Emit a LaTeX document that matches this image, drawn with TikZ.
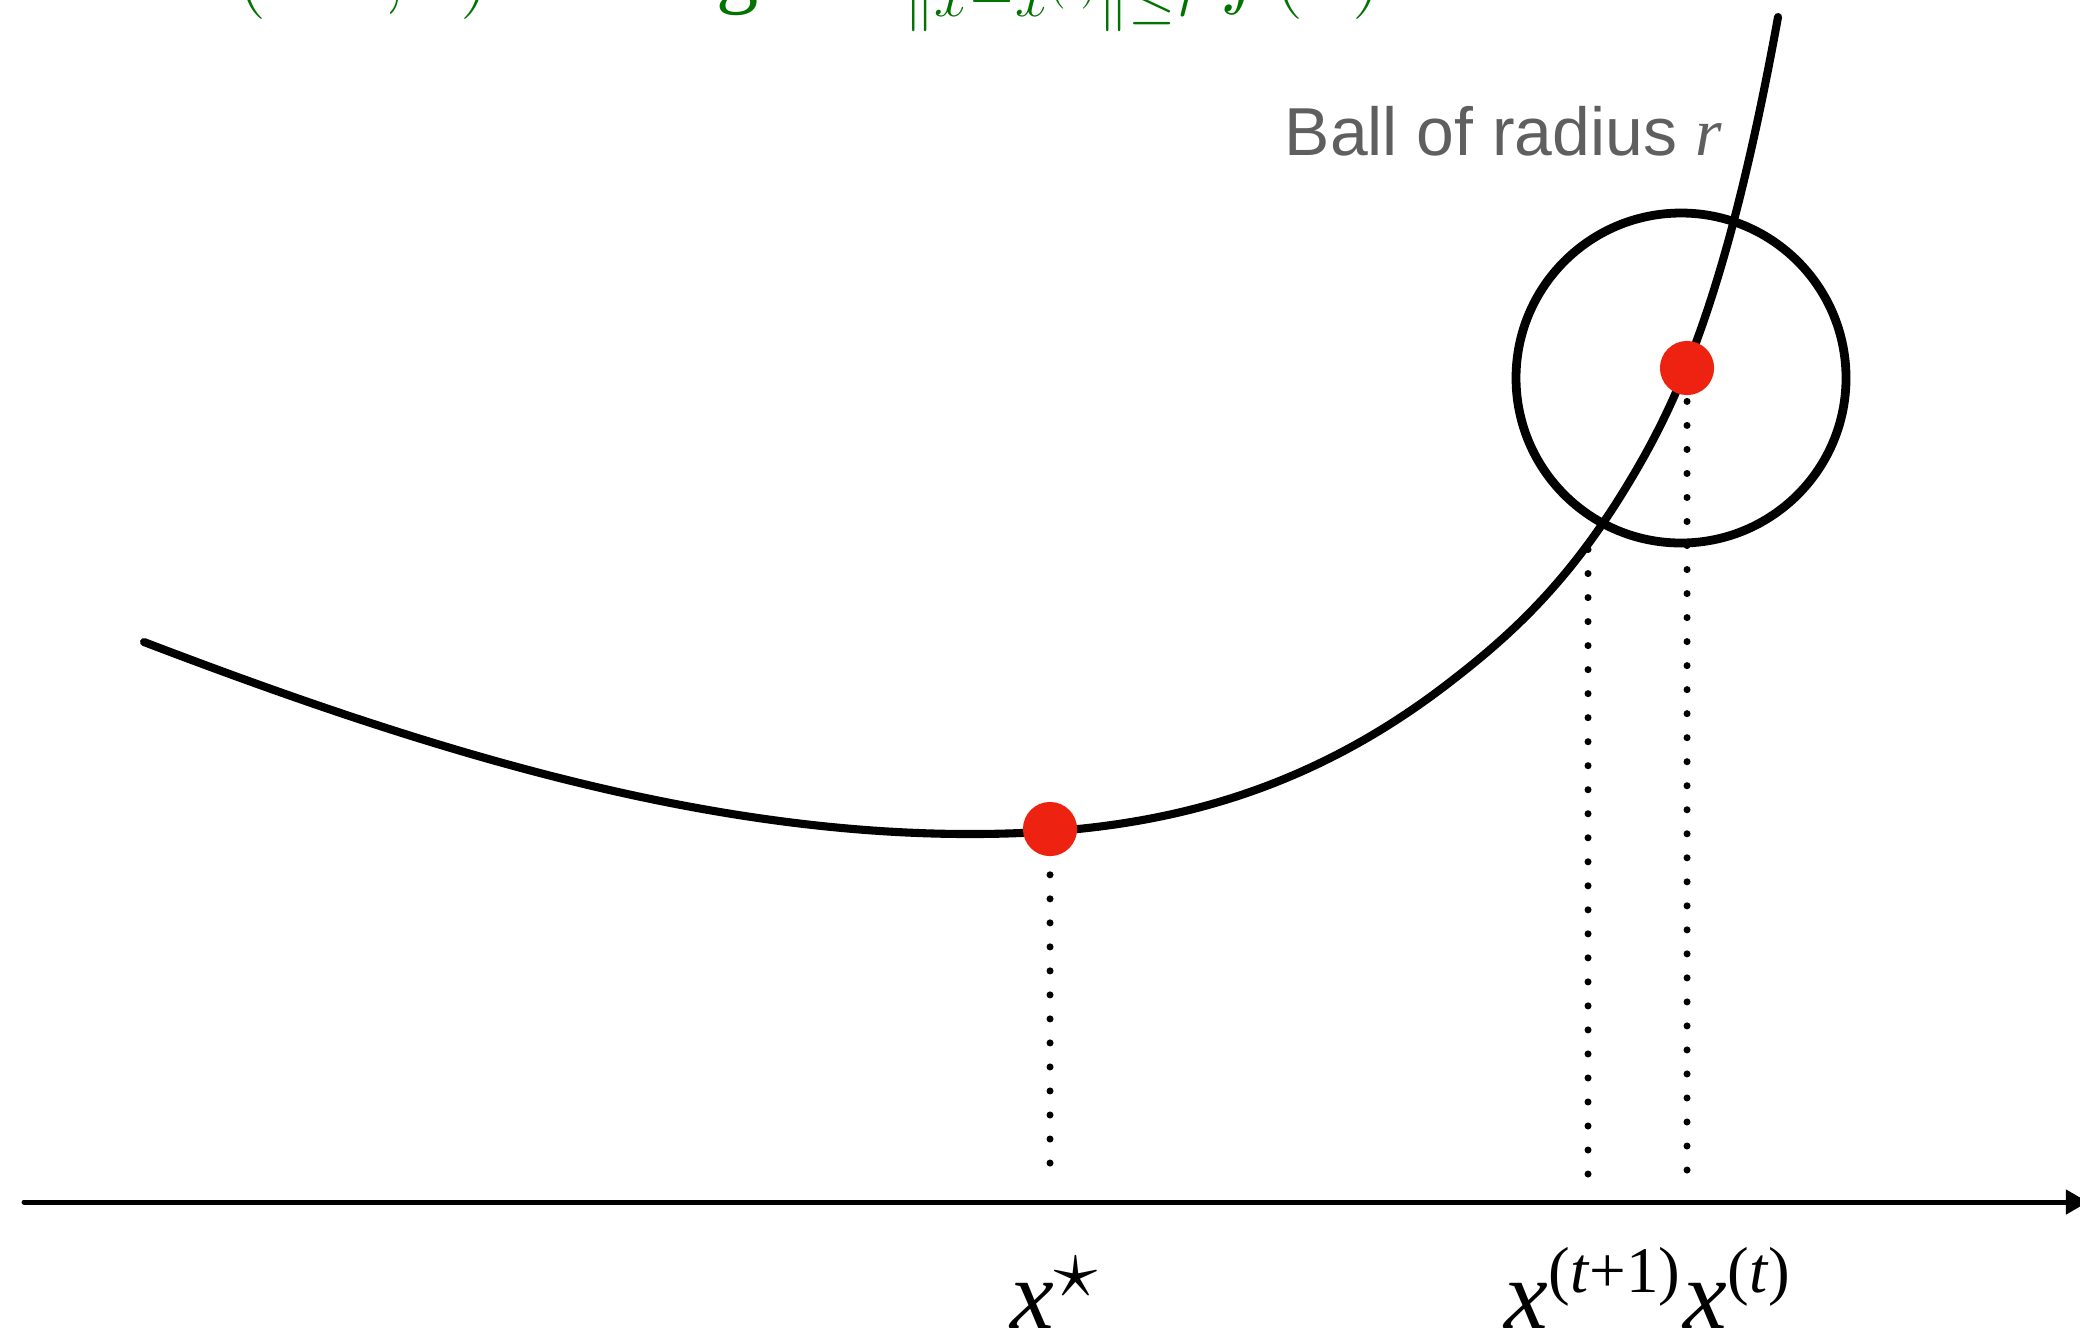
\documentclass[tikz,border=0pt]{standalone}
\usepackage{fontspec}
\setmainfont{Liberation Serif}
\newfontfamily\ballfont{Liberation Sans}
\usetikzlibrary{arrows.meta}

\definecolor{ptred}{RGB}{238,34,17}
\definecolor{formgreen}{RGB}{0,115,0}
\definecolor{labelgray}{RGB}{95,95,95}

\newcommand{\supx}[1]{\raisebox{10pt}{\fontsize{18.5}{22}\selectfont #1}}

\begin{document}
\begin{tikzpicture}[
  x=0.01cm,
  y=-0.01cm,
  line cap=round,
  line join=round,
  curve/.style={line width=2.3pt},
  guide/.style={line width=2pt, dash pattern=on 0pt off 6.83pt},
  point/.style={circle, fill=ptred, inner sep=0pt, minimum size=15.4pt},
  axislabel/.style={anchor=base west, inner sep=0pt, font=\fontsize{28}{34}\selectfont},
  formula/.style={anchor=base west, inner sep=0pt, text=formgreen, font=\fontsize{24}{28}\selectfont}
]
  \def\rad{165}
  \useasboundingbox (0,0) rectangle (2080,1335);

  % Achse
  \coordinate (axstart) at (24,1202);
  \coordinate (axend) at (2088,1202);
  \draw[line width=1.4pt, -{Triangle[length=6.3pt,width=6.8pt]}]
    (axstart) -- (axend);

  % Kurve
  \draw[curve]
    (144,642) .. controls (419,747) and (695,834) .. (970,834)
    .. controls (1130,834) and (1290,806) .. (1450,682)
    .. controls (1507,638) and (1563,588) .. (1620,497)
    .. controls (1673,412) and (1725,308) .. (1778,17);

  % Kugel
  \coordinate (ball) at (1681,378);
  \draw[line width=2.5pt] (ball) circle (\rad);

  % Punkte
  \node[point] (xstar) at (1050,829) {};
  \node[point] (xcur) at (1687,368) {};
  \coordinate (xnext) at (1588,544);

  \coordinate (xstarfoot) at (1050,1163);
  \coordinate (xnextfoot) at (1588,1174);
  \coordinate (xcurfoot) at (1687,1170);

  \draw[guide] (xstarfoot) -- (xstar.south);
  \draw[guide] (xnextfoot) -- (xnext);
  \draw[guide] (xcurfoot) -- (xcur.south);

  % Beschriftung
  \node[axislabel] (lxstar) at (1010,1328)
    {\textit{x}\raisebox{8.6pt}{\fontsize{27}{30}\selectfont$\star$}};
  \node[axislabel] (lxnext) at (1504,1328) {\textit{x}\supx{(\textit{t}+1)}};
  \node[axislabel] (lxcur) at (1683,1328) {\textit{x}\supx{(\textit{t})}};

  \node[anchor=base west, inner sep=0pt, text=labelgray,
        font=\ballfont\fontsize{19.3}{23}\selectfont] (balllabel)
    at (1284,155) {Ball of radius {\rmfamily\itshape r}};

  \node[formula] (region) at (165,-3) {$B(x^{(t)},r)$};
  \node[formula] (update) at (650,-3) {$\arg\min_{\|x-x^{(t)}\|\le r} f(x)$};
\end{tikzpicture}
\end{document}
